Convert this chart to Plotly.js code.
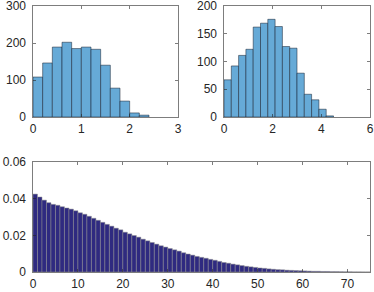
<!DOCTYPE html>
<html>
<head>
<meta charset="utf-8">
<script src="https://cdn.plot.ly/plotly-3.0.1.min.js"></script>
<style>html,body{margin:0;padding:0;background:#fff;}#chart{width:374px;height:292px;}</style>
</head>
<body>
<div id="chart"></div>
<script>
// Top-left histogram (bin width 0.2)
const hist1Centers = [0.1,0.3,0.5,0.7,0.9,1.1,1.3,1.5,1.7,1.9,2.1,2.3];
const hist1Counts  = [108,146,189,202,185,189,183,140,78,43,11,5];
// Top-right histogram (bin width 0.3)
const hist2Centers = [0.15,0.45,0.75,1.05,1.35,1.65,1.95,2.25,2.55,2.85,3.15,3.45,3.75,4.05,4.35];
const hist2Counts  = [67,92,111,122,162,169,176,163,127,124,79,41,31,14,2];
// Bottom bar chart (unit bins 0..75)
const bottomCenters = [];
for (let i = 0; i < 75; i++) bottomCenters.push(i + 0.5);
const bottomValues = [
  0.0425,0.0409,0.0392,0.0378,0.0369,0.0364,0.0356,0.0349,0.0343,0.0334,
  0.0323,0.0315,0.0304,0.0293,0.0282,0.0271,0.0260,0.0250,0.0239,0.0230,
  0.0217,0.0208,0.0199,0.0190,0.0179,0.0170,0.0161,0.0152,0.0143,0.0136,
  0.0128,0.0121,0.0114,0.0105,0.0098,0.0092,0.0085,0.0080,0.0075,0.0069,
  0.0064,0.0058,0.0052,0.0048,0.0043,0.0039,0.0035,0.0031,0.0028,0.0025,
  0.0022,0.0020,0.0017,0.0015,0.0013,0.0012,0.0010,0.0009,0.0008,0.0007,
  0.0006,0.0005,0.0004,0.0004,0.0003,0.0003,0.0002,0.0002,0.00015,0.0001,
  0.0001,0.00005,0.00005,0.00003,0.00002
];

const W = 374, H = 292;
const fx = (a, b) => [a / W, b / W];
const fy = (top, bot) => [(H - bot) / H, (H - top) / H];

const histColor = '#66aad7';
const histEdge = 'rgba(20,30,45,0.85)';

const traces = [
  {type: 'bar', x: hist1Centers, y: hist1Counts, width: 0.2,
   marker: {color: histColor, line: {color: histEdge, width: 0.6}},
   xaxis: 'x', yaxis: 'y', hoverinfo: 'none'},
  {type: 'bar', x: hist2Centers, y: hist2Counts, width: 0.3,
   marker: {color: histColor, line: {color: histEdge, width: 0.6}},
   xaxis: 'x2', yaxis: 'y2', hoverinfo: 'none'},
  {type: 'bar', x: bottomCenters, y: bottomValues, width: 1,
   marker: {color: '#2f2a80', line: {color: '#8f8f8f', width: 0.5}},
   xaxis: 'x3', yaxis: 'y3', hoverinfo: 'none'}
];

const axBase = {
  showgrid: false, zeroline: false, showline: true, mirror: 'ticks',
  linecolor: '#262626', linewidth: 0.6,
  ticks: 'inside', ticklen: 3, tickwidth: 0.6, tickcolor: '#262626',
  tickfont: {family: 'Liberation Sans, Arial, sans-serif', size: 12, color: '#262626'},
  ticklabeloverflow: 'allow',
  fixedrange: true
};
const xBase = Object.assign({}, axBase, {ticklabelstandoff: 1});
const yBase = Object.assign({}, axBase, {ticklabelstandoff: 4});

const layout = {
  width: W, height: H,
  margin: {l: 0, r: 0, t: 0, b: 0},
  paper_bgcolor: '#fff', plot_bgcolor: '#fff',
  showlegend: false, bargap: 0,
  xaxis: Object.assign({}, xBase, {domain: fx(33, 178), range: [0, 3], dtick: 1, anchor: 'y'}),
  yaxis: Object.assign({}, yBase, {domain: fy(6, 117), range: [0, 300], dtick: 100, anchor: 'x'}),
  xaxis2: Object.assign({}, xBase, {domain: fx(224, 370), range: [0, 6], dtick: 2, anchor: 'y2'}),
  yaxis2: Object.assign({}, yBase, {domain: fy(6, 117), range: [0, 200], dtick: 50, anchor: 'x2'}),
  xaxis3: Object.assign({}, xBase, {domain: fx(33, 370), range: [0, 75], dtick: 10, anchor: 'y3'}),
  yaxis3: Object.assign({}, yBase, {domain: fy(162, 272), range: [0, 0.06], dtick: 0.02, anchor: 'x3'})
};

Plotly.newPlot('chart', traces, layout, {staticPlot: true, displayModeBar: false});
</script>
</body>
</html>
